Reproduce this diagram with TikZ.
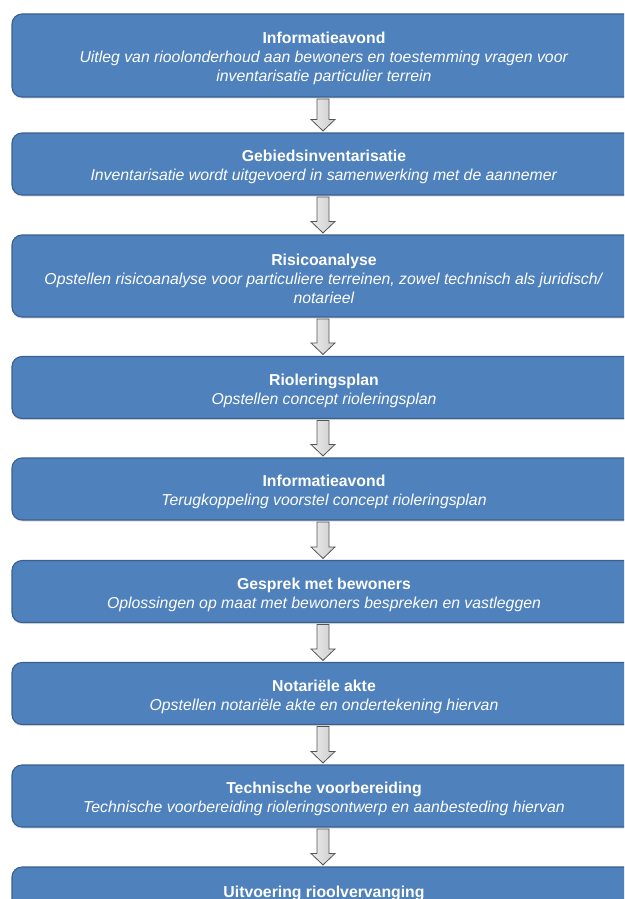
\documentclass[tikz,border=0pt]{standalone}
\usepackage{fontspec}
\setmainfont{Liberation Sans}
\usetikzlibrary{calc,shadows}
\definecolor{stapblauw}{RGB}{79,129,189}
\definecolor{staprand}{RGB}{58,96,142}
\definecolor{pijlrand}{RGB}{85,85,85}
\newcommand{\staptitel}[1]{\rule{0pt}{18pt}\textbf{#1}}

\begin{document}
\begin{tikzpicture}[x=1pt,y=-1pt,
  stap/.style={draw=staprand, fill=stapblauw, line width=1.1pt, rounded corners=10pt,
    minimum width=624pt, minimum height=62pt, text=white, align=center,
    font=\fontsize{15.8}{19}\selectfont,
    drop shadow={shadow xshift=0pt, shadow yshift=-1.5pt, opacity=0.25}},
  pijl/.style={draw=pijlrand, line width=0.8pt, left color=gray!15, right color=gray!40, line join=miter}]
%% The page is cut at the size of the original picture, the last box runs off the bottom and right
	\useasboundingbox (0,0) rectangle (624,899);
	\clip (0,0) rectangle (624,899);

	\begin{scope}
%% The steps, one box each. Coordinates are in pixels of the original, counted from the top.
    \node[stap, minimum height=83pt] (avond1) at (324,55.5) {\staptitel{Informatieavond}\\ \textit{Uitleg van rioolonderhoud aan bewoners en toestemming vragen voor}\\ \textit{inventarisatie particulier terrein}};
    \node[stap] (inventaris) at (324,164) {\staptitel{Gebiedsinventarisatie}\\ \textit{Inventarisatie wordt uitgevoerd in samenwerking met de aannemer}};
    \node[stap, minimum height=82pt] (risico) at (324,276) {\staptitel{Risicoanalyse}\\ \textit{Opstellen risicoanalyse voor particuliere terreinen, zowel technisch als juridisch/}\\ \textit{notarieel}};
    \node[stap] (plan) at (324,387.5) {\staptitel{Rioleringsplan}\\ \textit{Opstellen concept rioleringsplan}};
    \node[stap] (avond2) at (324,489) {\staptitel{Informatieavond}\\ \textit{Terugkoppeling voorstel concept rioleringsplan}};
    \node[stap] (gesprek) at (324,591.5) {\staptitel{Gesprek met bewoners}\\ \textit{Oplossingen op maat met bewoners bespreken en vastleggen}};
    \node[stap] (akte) at (324,693.5) {\staptitel{Notariële akte}\\ \textit{Opstellen notariële akte en ondertekening hiervan}};
    \node[stap] (voorbereiding) at (324,796) {\staptitel{Technische voorbereiding}\\ \textit{Technische voorbereiding rioleringsontwerp en aanbesteding hiervan}};
    \node[stap] (uitvoering) at (324,898) {\staptitel{Uitvoering rioolvervanging}\\ \mbox{}};
	\end{scope}

%% Hollow block arrows from one box to the next
    \foreach \a/\b in {avond1/inventaris, inventaris/risico, risico/plan, plan/avond2,
                      avond2/gesprek, gesprek/akte, akte/voorbereiding, voorbereiding/uitvoering}
      \draw[pijl] ($(\a.south)+(-7,1.5)$) -- ($(\b.north)+(-7,-13)$) -- ($(\b.north)+(-13,-13)$)
        -- ($(\b.north)+(-1,-1.5)$) -- ($(\b.north)+(11,-13)$) -- ($(\b.north)+(5,-13)$)
        -- ($(\a.south)+(5,1.5)$) -- cycle;

\end{tikzpicture}
\end{document}
